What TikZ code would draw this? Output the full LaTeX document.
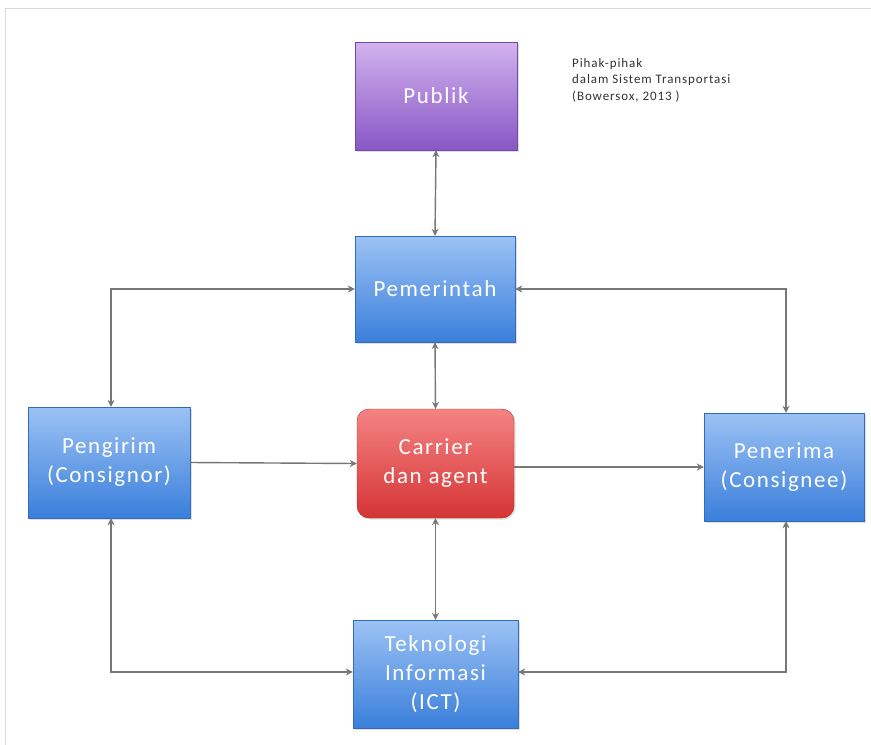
\documentclass[tikz,border=0pt]{standalone}
\usepackage{fontspec}
\setmainfont{Carlito}
\newfontfamily\boxfont[LetterSpace=7]{Carlito}
\newfontfamily\capfont[LetterSpace=7]{Carlito}
\usetikzlibrary{arrows.meta,shadows}
\definecolor{bluetop}{HTML}{9CC2F4}
\definecolor{bluebot}{HTML}{3A7FDB}
\definecolor{purptop}{HTML}{D2B2EE}
\definecolor{purpbot}{HTML}{8857C6}
\definecolor{redtop}{HTML}{F58383}
\definecolor{redbot}{HTML}{D53434}
\definecolor{conn}{HTML}{777777}
\tikzset{
  box/.style={rectangle, inner sep=0pt, text=white, align=center,
    font=\boxfont\fontsize{23}{29}\selectfont, line width=0.4pt,
    drop shadow={shadow xshift=1.5pt, shadow yshift=-1.5pt, opacity=0.25}},
  bluebox/.style={box, top color=bluetop, bottom color=bluebot, draw=bluebot!85!black},
  purpbox/.style={box, top color=purptop, bottom color=purpbot, draw=purpbot!85!black},
  redbox/.style={box, top color=redtop, bottom color=redbot, draw=redbot!85!black, rounded corners=12pt},
  link/.style={draw=conn, line width=1.4pt, {Stealth[length=7pt,width=7pt]}-{Stealth[length=7pt,width=7pt]}},
  onelink/.style={draw=conn, line width=1.4pt, -{Stealth[length=7pt,width=7pt]}},
}
\begin{document}
\begin{tikzpicture}[x=1pt,y=-1pt]
\useasboundingbox (0,0) rectangle (871,745);
\draw[gray!30, line width=1pt] (5.5,745) -- (5.5,8.5) -- (871,8.5);

\node[purpbox, minimum width=162pt, minimum height=108pt] (publik) at (436,96) {Publik};
\node[bluebox, minimum width=160pt, minimum height=106pt] (pemerintah) at (435,289) {Pemerintah};
\node[bluebox, minimum width=162pt, minimum height=111pt] (pengirim) at (109,462.5) {Pengirim\\(Consignor)};
\node[redbox, minimum width=157pt, minimum height=109pt] (carrier) at (435.5,463.5) {Carrier\\dan agent};
\node[bluebox, minimum width=160pt, minimum height=108pt] (penerima) at (784,467) {Penerima\\(Consignee)};
\node[bluebox, minimum width=165pt, minimum height=108pt] (tekno) at (435.5,674) {Teknologi\\Informasi\\(ICT)};

\node[anchor=north west, align=left, text=black!80, font=\capfont\fontsize{13}{16.5}\selectfont, inner sep=0pt] (caption) at (572,58) {Pihak-pihak\\dalam Sistem Transportasi\\(Bowersox, 2013 )};

\draw[link] (publik.south) -- (pemerintah.north);
\draw[link] (pemerintah.south) -- (carrier.north);
\draw[link] (carrier.south) -- (tekno.north);
\draw[link] (pemerintah.west) -| ([xshift=2pt]pengirim.north);
\draw[link] (pemerintah.east) -| ([xshift=2pt]penerima.north);
\draw[link] ([xshift=2pt]pengirim.south) |- ([yshift=2pt]tekno.west);
\draw[link] ([xshift=2pt]penerima.south) |- ([yshift=2pt]tekno.east);
\draw[onelink] (pengirim.east) -- (carrier.west);
\draw[onelink] (carrier.east |- penerima.west) -- (penerima.west);
\end{tikzpicture}
\end{document}
